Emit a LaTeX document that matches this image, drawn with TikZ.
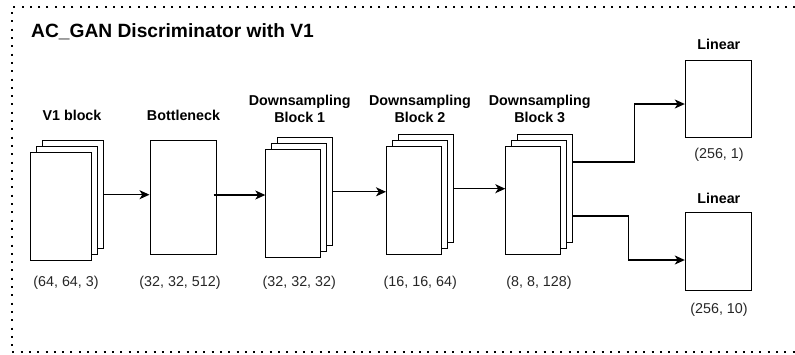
\documentclass[tikz,border=0pt]{standalone}
\usepackage{fontspec}
\setmainfont{Liberation Sans}
\usetikzlibrary{arrows.meta}
\begin{document}
\begin{tikzpicture}[x=1pt,y=-1pt,
  blk/.style={draw=black, fill=white, line width=1pt, inner sep=0pt},
  v1sz/.style={blk, minimum width=61pt, minimum height=108pt},
  dssz/.style={blk, minimum width=55pt, minimum height=108pt},
  arr/.style={line width=1.1pt, -{Stealth[length=10pt,width=9pt,inset=2.8pt]}},
  ttl/.style={font=\fontsize{19.2}{22}\selectfont\bfseries, inner sep=0pt},
  lbl/.style={font=\fontsize{14.3}{16.6}\selectfont\bfseries, align=center, inner sep=0pt},
  dim/.style={font=\fontsize{14.3}{16.6}\selectfont, inner sep=0pt, text=black!85},
  frame/.style={line width=2pt, dash pattern=on 2pt off 6.3pt}
]
\useasboundingbox (0,0) rectangle (795,354);
\clip (0,0) rectangle (795,354);
\draw[frame] (812,7) -- (12,7) -- (12,352) -- (812,352);

\node[ttl, anchor=west] (title) at (31,31.7) {AC\_GAN Discriminator with V1};

% V1 block
\node[v1sz] (v1c) at (72.5,194.7) {};
\node[v1sz] (v1b) at (66.5,200.7) {};
\node[v1sz] (v1a) at (60.5,206.7) {};
% Bottleneck
\node[blk, minimum width=66pt, minimum height=114pt] (bn) at (183,197.7) {};
% DS1
\node[dssz] (d1c) at (305.3,191.8) {};
\node[dssz] (d1b) at (299.3,197.8) {};
\node[dssz] (d1a) at (293.3,203.8) {};
% DS2
\node[dssz] (d2c) at (426,188.7) {};
\node[dssz] (d2b) at (420,194.6) {};
\node[dssz] (d2a) at (414,200.5) {};
% DS3
\node[dssz] (d3c) at (545.3,188.5) {};
\node[dssz] (d3b) at (539.3,194.5) {};
\node[dssz] (d3a) at (533.3,200.5) {};
% Linear
\node[blk, minimum width=66pt, minimum height=77pt] (l1) at (718.3,99.3) {};
\node[blk, minimum width=66pt, minimum height=78pt] (l2) at (718.3,251.9) {};

% Labels
\node[lbl] (t1) at (72,115) {V1 block};
\node[lbl] (t2) at (183.5,115) {Bottleneck};
\node[lbl] (t3) at (299.7,109) {Downsampling\\Block 1};
\node[lbl] (t4) at (420,109) {Downsampling\\Block 2};
\node[lbl] (t5) at (539.7,109) {Downsampling\\Block 3};
\node[lbl] (t6) at (718.8,44) {Linear};
\node[lbl] (t7) at (718.8,198.3) {Linear};

\node[dim] (s1) at (66,283) {(64, 64, 3)};
\node[dim] (s2) at (180,283) {(32, 32, 512)};
\node[dim] (s3) at (299.3,282.3) {(32, 32, 32)};
\node[dim] (s4) at (420.3,282.3) {(16, 16, 64)};
\node[dim] (s5) at (539,282.3) {(8, 8, 128)};
\node[dim] (s6) at (719,155) {(256, 1)};
\node[dim] (s7) at (719,310) {(256, 10)};

% Connectors (shifts are in canvas direction: positive = up)
\draw[arr] (v1c.east) -- (v1c.east -| bn.west);
\coordinate (bo) at ([shift={(-3pt,2.7pt)}]bn.east);
\draw[arr] (bo) -- (bo -| d1a.west);
\draw[arr] (d1c.east) -- (d1c.east -| d2a.west);
\draw[arr] (d2c.east) -- (d2c.east -| d3a.west);
\coordinate (o1) at ([yshift=26.5pt]d3c.east);
\coordinate (o2) at ([yshift=-27.5pt]d3c.east);
\coordinate (i1) at ([yshift=-4.7pt]l1.west);
\coordinate (i2) at ([yshift=-8.1pt]l2.west);
\coordinate (k1) at (634.7,0);
\coordinate (k2) at (628.7,0);
\draw[arr] (o1) -- (o1 -| k1) -- (k1 |- i1) -- (i1);
\draw[arr] (o2) -- (o2 -| k2) -- (k2 |- i2) -- (i2);
\end{tikzpicture}
\end{document}
